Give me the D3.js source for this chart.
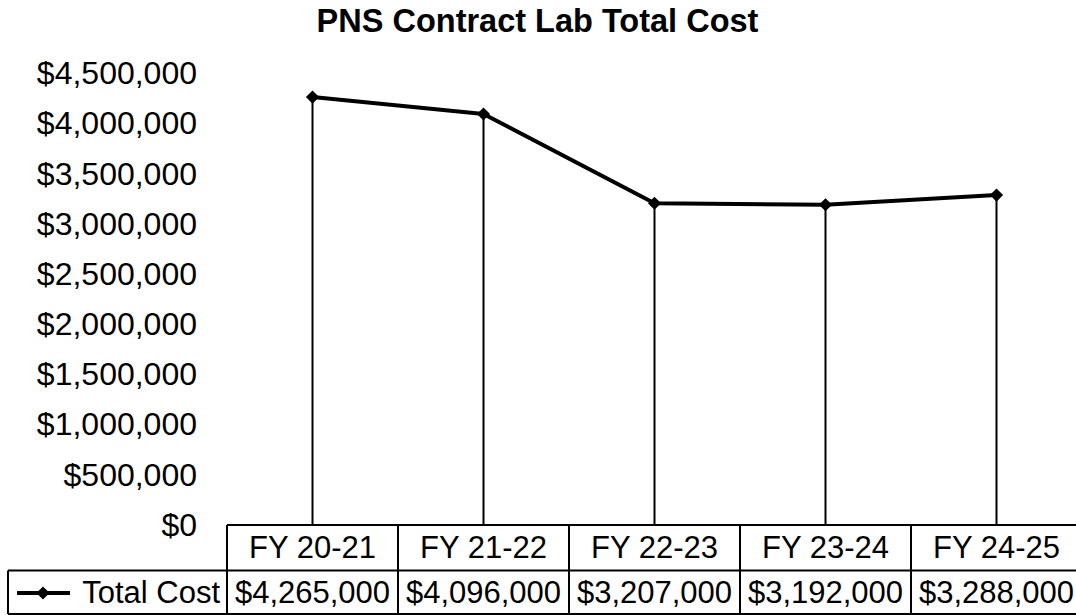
<!DOCTYPE html>
<html>
<head>
<meta charset="utf-8">
<script src="https://cdn.jsdelivr.net/npm/d3@7"></script>
<style>
  body { margin: 0; background: #fff; }
  text { font-family: "Liberation Sans", Arial, sans-serif; fill: #000; }
</style>
</head>
<body>
<div id="chart"></div>
<script>
// data
var categories = ["FY 20-21", "FY 21-22", "FY 22-23", "FY 23-24", "FY 24-25"];
var totalCost = [4265000, 4096000, 3207000, 3192000, 3288000];
var yTicks = [0, 500000, 1000000, 1500000, 2000000, 2500000, 3000000, 3500000, 4000000, 4500000];
var seriesName = "Total Cost";

function drawChart() {
  var width = 1076;
  var height = 615;
  var plotLeft = 227;
  var plotRight = 1082;
  var plotTop = 73.5;
  var plotBottom = 525;
  var rowMid = 570.5;
  var rowBottom = 614;
  var legendLeft = 8;
  var fontSize = 31;

  var fmt = d3.format("$,");

  var xScale = d3.scaleBand()
    .domain(categories)
    .range([plotLeft, plotRight])
    .padding(0);

  var yScale = d3.scaleLinear()
    .domain([0, 4500000])
    .range([plotBottom, plotTop]);

  var svg = d3.select("#chart")
    .append("svg")
    .attr("width", width)
    .attr("height", height);

  // title
  svg.append("text")
    .attr("x", 537.5)
    .attr("y", 32)
    .attr("text-anchor", "middle")
    .style("font-size", "32.5px")
    .style("font-weight", "bold")
    .text("PNS Contract Lab Total Cost");

  // y axis labels only, no line or ticks
  var yAxis = d3.axisLeft(yScale)
    .tickValues(yTicks)
    .tickFormat(fmt)
    .tickSize(0)
    .tickPadding(0);

  var yg = svg.append("g")
    .attr("transform", "translate(197,0)")
    .call(yAxis);
  yg.select(".domain").remove();
  yg.selectAll("text")
    .style("font-size", "32px")
    .style("font-family", "'Liberation Sans', Arial, sans-serif");

  var cx = function(d, i) { return xScale(categories[i]) + xScale.bandwidth() / 2; };

  // drop lines
  svg.selectAll(".drop")
    .data(totalCost)
    .enter()
    .append("line")
    .attr("class", "drop")
    .attr("x1", cx)
    .attr("x2", cx)
    .attr("y1", (d) => yScale(d))
    .attr("y2", plotBottom)
    .attr("stroke", "#000")
    .attr("stroke-width", 2);

  // series line
  var line = d3.line()
    .x((d, i) => cx(d, i))
    .y((d) => yScale(d));

  svg.append("path")
    .datum(totalCost)
    .attr("d", line)
    .attr("fill", "none")
    .attr("stroke", "#000")
    .attr("stroke-width", 4)
    .attr("stroke-linejoin", "round");

  var diamond = d3.symbol().type(d3.symbolDiamond2).size(110);

  svg.selectAll(".pt")
    .data(totalCost)
    .enter()
    .append("path")
    .attr("class", "pt")
    .attr("d", diamond)
    .attr("transform", (d, i) => "translate(" + cx(d, i) + "," + yScale(d) + ")")
    .attr("fill", "#000");

  // data table
  var table = svg.append("g");
  var border = function(x1, y1, x2, y2) {
    table.append("line")
      .attr("x1", x1).attr("y1", y1)
      .attr("x2", x2).attr("y2", y2)
      .attr("stroke", "#000")
      .attr("stroke-width", 2);
  };

  border(plotLeft, plotBottom, plotRight, plotBottom);
  border(legendLeft, rowMid, plotRight, rowMid);
  border(legendLeft, rowBottom, plotRight, rowBottom);
  border(legendLeft, rowMid, legendLeft, rowBottom);
  categories.forEach(function(c) {
    border(xScale(c), plotBottom, xScale(c), rowBottom);
  });
  border(plotRight, plotBottom, plotRight, rowBottom);

  table.selectAll(".cat")
    .data(categories)
    .enter()
    .append("text")
    .attr("class", "cat")
    .attr("x", (d) => xScale(d) + xScale.bandwidth() / 2)
    .attr("y", 558)
    .attr("text-anchor", "middle")
    .style("font-size", fontSize + "px")
    .text((d) => d);

  table.selectAll(".val")
    .data(totalCost)
    .enter()
    .append("text")
    .attr("class", "val")
    .attr("x", cx)
    .attr("y", 603)
    .attr("text-anchor", "middle")
    .style("font-size", fontSize + "px")
    .text((d) => fmt(d));

  // legend key in the table
  table.append("line")
    .attr("x1", 17).attr("x2", 70)
    .attr("y1", 593).attr("y2", 593)
    .attr("stroke", "#000")
    .attr("stroke-width", 4);
  table.append("path")
    .attr("d", diamond)
    .attr("transform", "translate(43,593)")
    .attr("fill", "#000");
  table.append("text")
    .attr("x", 220)
    .attr("y", 603)
    .attr("text-anchor", "end")
    .style("font-size", fontSize + "px")
    .text(seriesName);
}

drawChart();
</script>
</body>
</html>
